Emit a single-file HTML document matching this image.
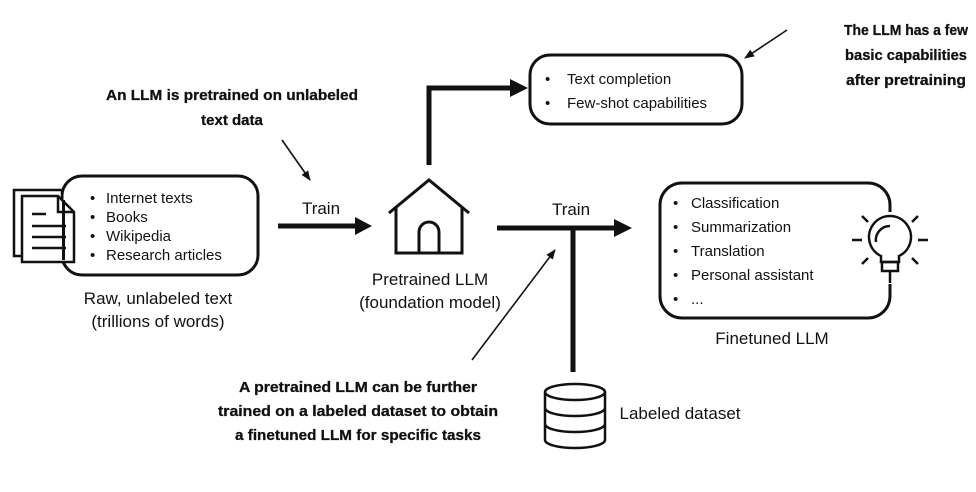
<!DOCTYPE html>
<html><head><meta charset="utf-8"><style>
html,body{margin:0;padding:0;background:#fff;}
svg{display:block;}
.t{font-family:"Liberation Sans",sans-serif;font-size:15px;fill:#111;}
.l{font-family:"Liberation Sans",sans-serif;font-size:17px;fill:#111;}
.b{font-family:"Liberation Sans Narrow","Liberation Sans",sans-serif;font-weight:bold;font-size:15px;fill:#111;stroke:#111;stroke-width:0.3;}
</style></head><body>
<svg width="976" height="492" viewBox="0 0 976 492" xmlns="http://www.w3.org/2000/svg">
<defs>
<marker id="a" markerWidth="10" markerHeight="10" refX="9" refY="5" orient="auto" markerUnits="userSpaceOnUse"><path d="M0,1 L10,5 L0,9 z" fill="#111"/></marker>
</defs>
<g fill="none" stroke="#111" stroke-width="3">
<rect x="62" y="176" width="196" height="99" rx="20"/>
<rect x="530" y="55" width="212" height="69" rx="20"/>
<rect x="660" y="183" width="230" height="135" rx="22"/>
</g>
<!-- doc icon -->
<g stroke="#111" stroke-width="2.5" fill="#fff">
<rect x="14" y="190" width="48" height="66"/>
<path d="M22,196 H58 L74,212 V262 H22 Z"/>
<path d="M58,196 V212 H74" fill="none"/>
<path d="M32,214 H46 M32,226 H66 M32,237 H66 M32,248 H66" fill="none"/>
</g>
<rect x="62" y="200" width="3" height="60" fill="#111"/>
<g class="t">
<text x="90" y="203">•</text><text x="106" y="203">Internet texts</text>
<text x="90" y="222">•</text><text x="106" y="222">Books</text>
<text x="90" y="241">•</text><text x="106" y="241">Wikipedia</text>
<text x="90" y="260">•</text><text x="106" y="260">Research articles</text>
<text x="545" y="84">•</text><text x="567" y="84">Text completion</text>
<text x="545" y="108">•</text><text x="567" y="108">Few-shot capabilities</text>
<text x="673" y="208">•</text><text x="691" y="208">Classification</text>
<text x="673" y="232">•</text><text x="691" y="232">Summarization</text>
<text x="673" y="256">•</text><text x="691" y="256">Translation</text>
<text x="673" y="280">•</text><text x="691" y="280">Personal assistant</text>
<text x="673" y="304">•</text><text x="691" y="304">...</text>
</g>
<g class="l" text-anchor="middle">
<text x="158" y="304">Raw, unlabeled text</text>
<text x="158" y="327">(trillions of words)</text>
<text x="321" y="214">Train</text>
<text x="571" y="215">Train</text>
<text x="430" y="285">Pretrained LLM</text>
<text x="430" y="308">(foundation model)</text>
<text x="772" y="344">Finetuned LLM</text>
<text x="680" y="419">Labeled dataset</text>
</g>
<!-- thick arrows -->
<g stroke="#111" stroke-width="5" fill="none">
<path d="M278,226 H356"/>
<path d="M497,228 H615"/>
<path d="M573,228 V372"/>
<path d="M429,165 V88 H512"/>
</g>
<path d="M355,217 L372,226 L355,235 Z" fill="#111"/>
<path d="M614,219 L632,228 L614,237 Z" fill="#111"/>
<path d="M510,79 L528,88 L510,97 Z" fill="#111"/>
<!-- house -->
<g stroke="#111" stroke-width="3" fill="none" stroke-linejoin="miter">
<path d="M389,213 L429,180 L469,213"/>
<path d="M396,207 V253 H462 V207"/>
<path d="M419,253 V232 A10,10 0 0 1 439,232 V253"/>
</g>
<!-- thin arrows -->
<g stroke="#111" stroke-width="1.6" fill="none" marker-end="url(#a)">
<path d="M282,140 L310,180"/>
<path d="M787,30 L745,58"/>
<path d="M472,360 L555,250"/>
</g>
<!-- database -->
<g stroke="#111" stroke-width="2.5" fill="#fff">
<path d="M545,392 V440 A30,8 0 0 0 605,440 V392"/>
<ellipse cx="575" cy="392" rx="30" ry="8"/>
<path d="M545,408 A30,8 0 0 0 605,408 M545,424 A30,8 0 0 0 605,424" fill="none"/>
</g>
<!-- bulb -->
<rect x="866" y="212" width="48" height="72" fill="#fff"/>
<g stroke="#111" stroke-width="2.5" fill="none">
<path d="M881,262 V256 A21,21 0 1 1 899,256 V262 Z"/>
<path d="M882,262 H898 V271 H882 Z"/>
<path d="M876,242 A14,14 0 0 1 890,226"/>
<path d="M890,271 V283"/>
<path d="M852,240 H862 M918,240 H928 M862,216 L868,222 M918,216 L912,222 M862,264 L868,258 M918,264 L912,258 M890,205 V212"/>
</g>
<g class="b" text-anchor="middle">
<text x="232" y="100" textLength="252" lengthAdjust="spacingAndGlyphs">An LLM is pretrained on unlabeled</text>
<text x="232" y="125">text data</text>
<text x="906" y="35" textLength="124" lengthAdjust="spacingAndGlyphs">The LLM has a few</text>
<text x="906" y="60" textLength="122" lengthAdjust="spacingAndGlyphs">basic capabilities</text>
<text x="906" y="85" textLength="120" lengthAdjust="spacingAndGlyphs">after pretraining</text>
<text x="358" y="392" textLength="238" lengthAdjust="spacingAndGlyphs">A pretrained LLM can be further</text>
<text x="358" y="416" textLength="280" lengthAdjust="spacingAndGlyphs">trained on a labeled dataset to obtain</text>
<text x="358" y="440" textLength="246" lengthAdjust="spacingAndGlyphs">a finetuned LLM for specific tasks</text>
</g>
</svg>
</body></html>
